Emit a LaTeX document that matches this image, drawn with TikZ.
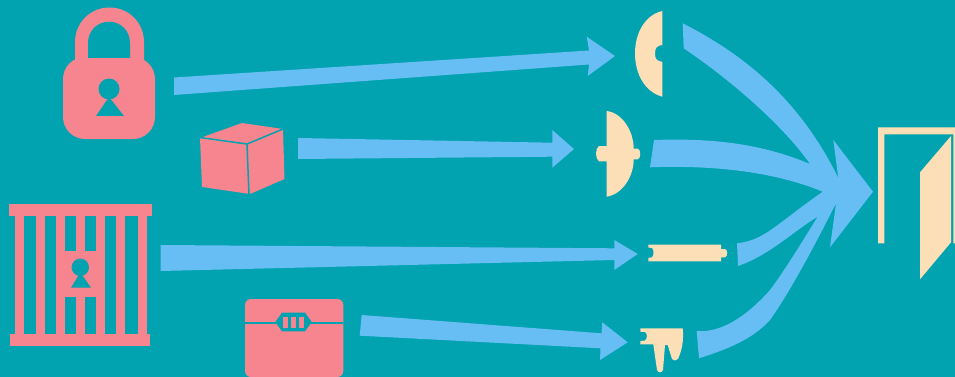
\documentclass[tikz,border=0pt]{standalone}
\usepackage{xcolor}
\definecolor{scenebg}{RGB}{0,163,175}
\definecolor{lockpink}{RGB}{246,133,143}
\definecolor{flowblue}{RGB}{102,190,245}
\definecolor{keycream}{RGB}{252,223,182}
\tikzset{
  lockpart/.style = {fill=lockpink},
  cutpart/.style  = {fill=scenebg},
  flowpart/.style = {fill=flowblue},
  keypart/.style  = {fill=keycream},
  cubeedge/.style = {draw=scenebg, line width=1.5pt}
}
\begin{document}
\begin{tikzpicture}[x=1pt,y=-1pt]
  \useasboundingbox (0,0) rectangle (955,377);
  \fill[cutpart] (0,0) rectangle (955,377);
  % padlock
  \fill[lockpart] (75,65) -- (75,42) .. controls (75,23) and (90,7.5) .. (109.5,7.5)
        .. controls (129,7.5) and (144,23) .. (144,42) -- (144,65) -- cycle;
  \fill[lockpart,rounded corners=22pt] (63,57) rectangle (155,139);
  \fill[cutpart] (88,58) -- (88,43) .. controls (88,31) and (97,21.7) .. (109,21.7)
        .. controls (121,21.7) and (130,31) .. (130,43) -- (130,58) -- cycle;
  \fill[cutpart] (109,89) circle (10.5pt);
  \fill[cutpart] (109,97) -- (96,116) -- (124,116) -- cycle;
  % cube
  \fill[lockpart] (200,138) -- (242,123) -- (283,129) -- (284.5,179) -- (250,194)
        -- (202,187) -- cycle;
  \draw[cubeedge] (200,137.5) -- (247,144) -- (283,129);
  \draw[cubeedge] (247,144) -- (249,195);
  % cage
  \fill[lockpart] (9,204) rectangle (152,216);
  \fill[lockpart] (10,334) rectangle (150,346);
  \foreach \x in {15.3,35.7,55.7,76,96.3,116.3,138} {
    \fill[lockpart] (\x,215) rectangle ++(8.8,120);
  }
  \fill[lockpart] (55.7,251) rectangle (105,296.7);
  \fill[cutpart] (80.3,267.3) circle (8.7pt);
  \fill[cutpart] (80.3,272.5) -- (71,287.7) -- (91,287.7) -- cycle;
  % chest
  \fill[lockpart,rounded corners=6pt] (245,299) rectangle (343.3,377);
  \fill[cutpart] (245,322.2) rectangle (343.3,324.2);
  \fill[cutpart] (275.3,322) -- (282,312.7) -- (305,312.7) -- (311.7,322) -- (305,331.3)
        -- (282,331.3) -- cycle;
  \foreach \x in {283,291,299} {
    \fill[lockpart] (\x,317) rectangle ++(5.4,11);
  }
  % straight arrows
  \fill[flowpart] (174,77.5) -- (589,50.5) -- (586.7,36.7) -- (615,56) -- (587.7,76)
        -- (589,64.5) -- (174,95) -- cycle;
  \fill[flowpart] (298,138) -- (552.3,142.7) -- (552.3,130) -- (574,149) -- (552.3,167.7)
        -- (552.3,156.7) -- (298,159) -- cycle;
  \fill[flowpart] (160.5,245) -- (614.3,248.3) -- (614.3,240) -- (637.7,254) -- (614.3,270)
        -- (614.3,260) -- (160.5,271) -- cycle;
  \fill[flowpart] (361.7,315) -- (601.5,333.3) -- (602.3,322.3) -- (627.7,342.3) -- (600,360)
        -- (600.5,348.3) -- (359.7,335.7) -- cycle;
  % merging arrows
  \fill[flowpart] (682.7,23.3) .. controls (745,55) and (800,100) .. (838.3,178)
        -- (833.3,140) -- (873,191.7) -- (830,247.3) -- (836,203.3)
        .. controls (815,245) and (790,292) .. (770,320)
        .. controls (752,340) and (725,350) .. (699,358.3)
        -- (696.7,331) .. controls (720,333) and (745,318) .. (770,290)
        .. controls (785,270) and (800,245) .. (817.7,216.7)
        .. controls (795,230) and (770,255) .. (738,266)
        -- (737,243.3) .. controls (765,240) and (775,225) .. (822.7,191.7)
        .. controls (775,172) and (715,165) .. (650,167.3)
        -- (654,140) .. controls (710,138) and (760,143) .. (810,164)
        .. controls (790,135) and (745,90) .. (683.7,48.3) -- cycle;
  % key pieces
  \fill[keypart] (662.3,11) .. controls (645,15) and (635,33) .. (635,53.5)
        .. controls (635,74) and (645,92) .. (662.3,96.7) -- (662.3,61.7)
        .. controls (657,61.5) and (655,59) .. (655,53.5)
        .. controls (655,48) and (657,45.5) .. (662.3,45) -- cycle;
  \fill[keypart] (606.7,111) .. controls (623,113) and (633.7,132) .. (633.7,148.7)
        -- (638,148.7) .. controls (641,150) and (641,158) .. (638,159.3) -- (633.7,159.3)
        .. controls (633.7,176) and (623,194) .. (606.7,196.7) -- (606.7,161.3)
        -- (599,161.3) .. controls (595,159) and (595,148) .. (599,146) -- (606.7,146) -- cycle;
  \fill[keypart] (648.3,244.7) -- (721,244.7) -- (721,249) -- (725,249)
        .. controls (728,250) and (728,256) .. (725,257.3) -- (721,257.3) -- (721,261.3)
        -- (648.3,261.3) -- (648.3,258) -- (652,257.3) .. controls (654,256) and (654,249) .. (652,248)
        -- (648.3,247.5) -- cycle;
  \fill[keypart] (640.3,328.3) -- (682.7,328.3) .. controls (684,340) and (682,350) .. (678,359)
        .. controls (676,361) and (673,361) .. (672,359) -- (667.7,345) -- (665,345)
        -- (663,370) .. controls (662,373) and (658,373) .. (657,370) -- (653.3,344.3)
        -- (640.3,344.3) -- (640.3,341) -- (645,340.5) .. controls (647.5,339) and (647.5,333) .. (645,332)
        -- (640.3,331.7) -- cycle;
  % door
  \fill[keypart] (878,127.3) -- (955,127.3) -- (955,243.3) -- (953.3,243.3) -- (953.3,134.3)
        -- (884.3,134.3) -- (884.3,243.3) -- (878,243.3) -- cycle;
  \fill[keypart] (920,172.3) -- (951,136) -- (951,242.3) -- (920,279.3) -- cycle;
\end{tikzpicture}
\end{document}
